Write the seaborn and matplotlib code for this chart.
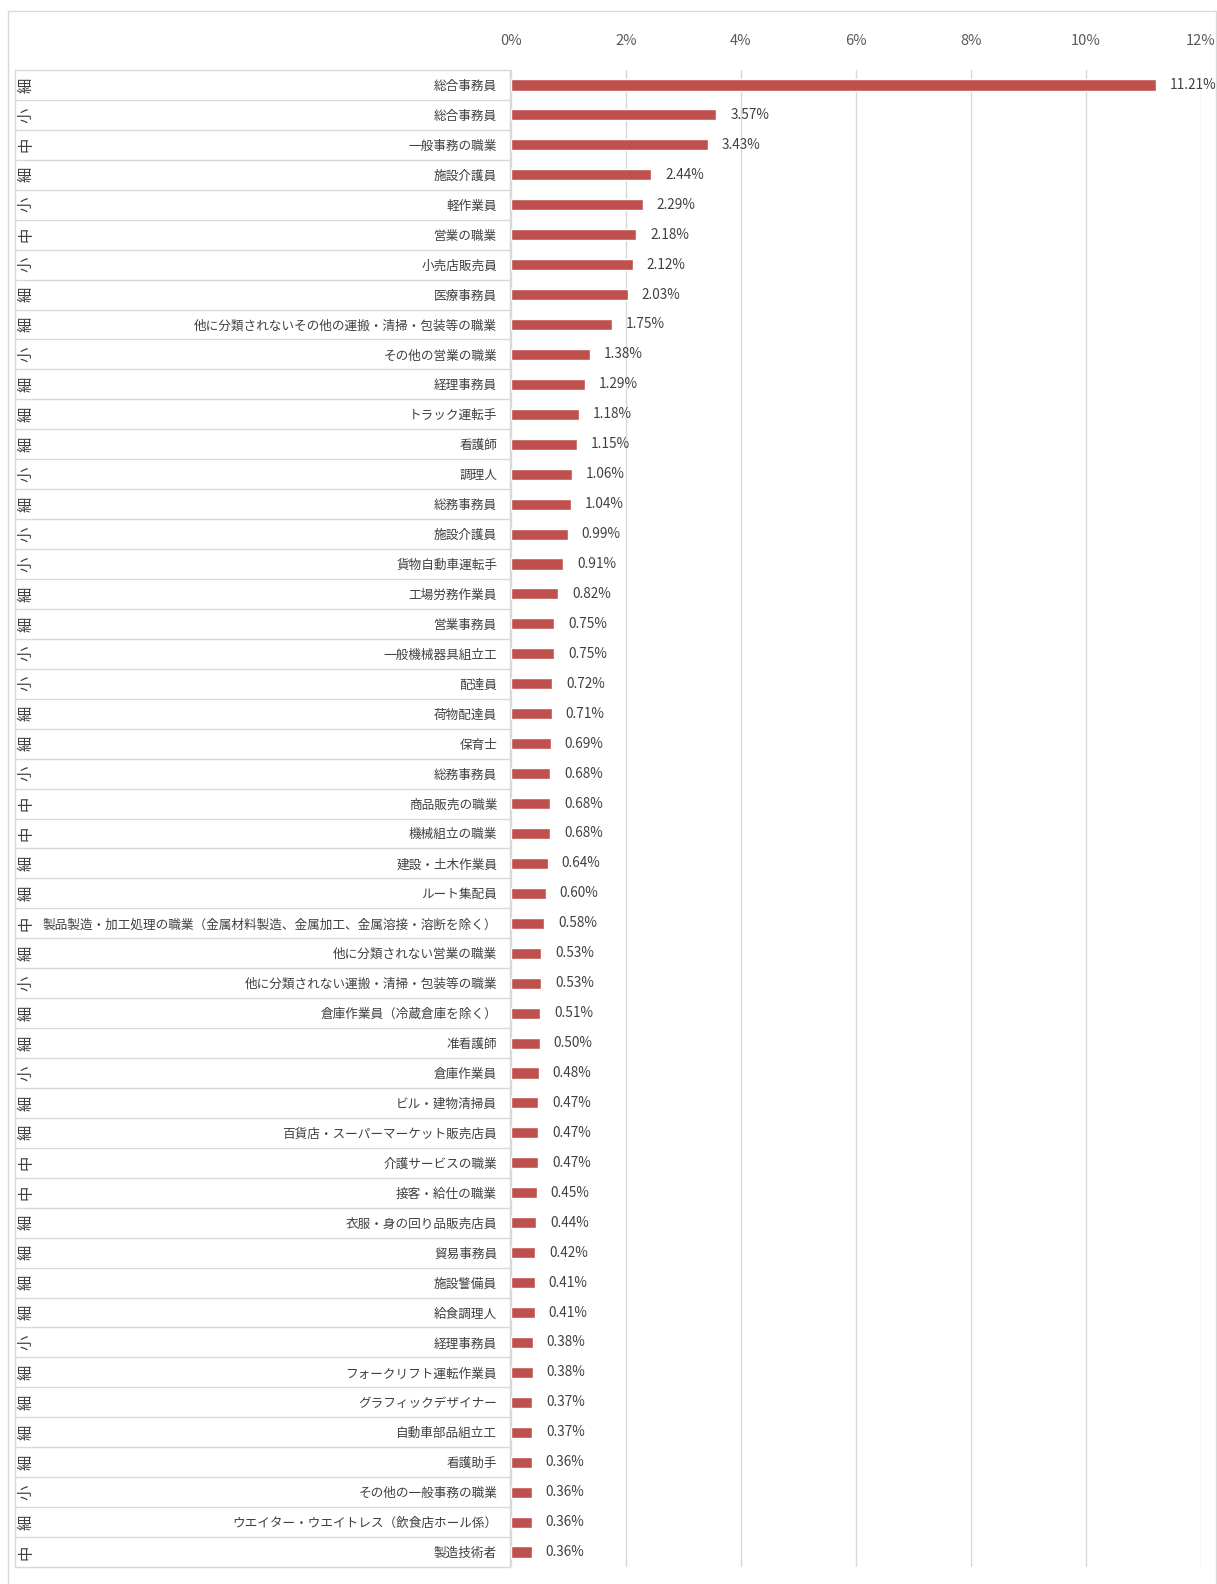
import matplotlib
matplotlib.use("Agg")
import matplotlib.pyplot as plt
import matplotlib.transforms as mtransforms
from matplotlib.patches import Rectangle
from matplotlib.lines import Line2D
import seaborn as sns
import pandas as pd

# Occupation classification level (細 = 細分類, 小 = 小分類, 中 = 中分類)
levels = [
    "細", "小", "中", "細", "小", "中", "小", "細", "細", "小",
    "細", "細", "細", "小", "細", "小", "小", "細", "細", "小",
    "小", "細", "細", "小", "中", "中", "細", "細", "中", "細",
    "小", "細", "細", "小", "細", "細", "中", "中", "細", "細",
    "細", "細", "小", "細", "細", "細", "細", "小", "細", "中",
]

occupations = [
    "総合事務員", "総合事務員", "一般事務の職業", "施設介護員", "軽作業員",
    "営業の職業", "小売店販売員", "医療事務員",
    "他に分類されないその他の運搬・清掃・包装等の職業", "その他の営業の職業",
    "経理事務員", "トラック運転手", "看護師", "調理人", "総務事務員",
    "施設介護員", "貨物自動車運転手", "工場労務作業員", "営業事務員", "一般機械器具組立工",
    "配達員", "荷物配達員", "保育士", "総務事務員", "商品販売の職業",
    "機械組立の職業", "建設・土木作業員", "ルート集配員",
    "製品製造・加工処理の職業（金属材料製造、金属加工、金属溶接・溶断を除く）",
    "他に分類されない営業の職業",
    "他に分類されない運搬・清掃・包装等の職業", "倉庫作業員（冷蔵倉庫を除く）", "准看護師",
    "倉庫作業員", "ビル・建物清掃員",
    "百貨店・スーパーマーケット販売店員", "介護サービスの職業", "接客・給仕の職業",
    "衣服・身の回り品販売店員", "貿易事務員",
    "施設警備員", "給食調理人", "経理事務員", "フォークリフト運転作業員", "グラフィックデザイナー",
    "自動車部品組立工", "看護助手", "その他の一般事務の職業",
    "ウエイター・ウエイトレス（飲食店ホール係）", "製造技術者",
]

shares = [
    11.21, 3.57, 3.43, 2.44, 2.29, 2.18, 2.12, 2.03, 1.75, 1.38,
    1.29, 1.18, 1.15, 1.06, 1.04, 0.99, 0.91, 0.82, 0.75, 0.75,
    0.72, 0.71, 0.69, 0.68, 0.68, 0.68, 0.64, 0.60, 0.58, 0.53,
    0.53, 0.51, 0.50, 0.48, 0.47, 0.47, 0.47, 0.45, 0.44, 0.42,
    0.41, 0.41, 0.38, 0.38, 0.37, 0.37, 0.36, 0.36, 0.36, 0.36,
]

x_ticks = [0, 2, 4, 6, 8, 10, 12]
x_tick_labels = ["0%", "2%", "4%", "6%", "8%", "10%", "12%"]

sns.set_theme(style="white")
plt.rcParams["font.family"] = ["Noto Sans CJK JP", "DejaVu Sans"]

W, H = 1217, 1584
fig = plt.figure(figsize=(W / 100, H / 100), dpi=100)
fig.patch.set_facecolor("white")

ax_left, ax_right = 511, 1201
ax_top, ax_bottom = 70, 1567
ax = fig.add_axes([ax_left / W, 1 - ax_bottom / H,
                   (ax_right - ax_left) / W, (ax_bottom - ax_top) / H])

df = pd.DataFrame({
    "rank": [str(i) for i in range(len(shares))],
    "occupation": occupations,
    "level": levels,
    "share": shares,
})

sns.barplot(data=df, x="share", y="rank", orient="h", color="#C0504D",
            saturation=1, width=0.37, ax=ax)

n = len(df)
ax.set_xlim(0, 12)
ax.set_ylim(n - 0.5, -0.5)

# percent axis on top
ax.xaxis.tick_top()
ax.set_xticks(x_ticks, labels=x_tick_labels)
ax.tick_params(axis="x", length=0, pad=16, labelsize=10.5, labelcolor="#595959")
ax.set_xlabel("")
ax.set_ylabel("")
ax.grid(axis="x", color="#D9D9D9", linewidth=1)
ax.set_axisbelow(True)

# occupation names
ax.set_yticks(range(n), labels=df["occupation"])
ax.tick_params(axis="y", length=0, pad=10, labelsize=9.1, labelcolor="#404040")

for s in ax.spines.values():
    s.set_visible(False)

# value labels
ax.bar_label(ax.containers[0], labels=[f"{v:.2f}%" for v in df["share"]],
             padding=10, fontsize=9.8, color="#404040")

# category table: row separators, borders and level column
trans = mtransforms.blended_transform_factory(fig.transFigure, ax.transData)
grid_c = "#D9D9D9"
table_left, table_right = 15, 510
for i in range(n + 1):
    ax.add_line(Line2D([table_left / W, table_right / W], [i - 0.5, i - 0.5],
                       transform=trans, color=grid_c, linewidth=1, clip_on=False))
for xp in (table_left, table_right):
    ax.add_line(Line2D([xp / W, xp / W], [-0.5, n - 0.5], transform=trans,
                       color=grid_c, linewidth=1, clip_on=False))
for i, lv in enumerate(df["level"]):
    ax.text(26 / W, i, lv, transform=trans, rotation=90, ha="center", va="center",
            fontsize=11, color="#404040", clip_on=False)

# chart frame
fig.patches.append(Rectangle((7.5 / W, -0.01), (1216 - 7.5) / W, 1.01 - 11 / H,
                             transform=fig.transFigure, fill=False,
                             edgecolor="#D9D9D9", linewidth=1))

fig.savefig("out.png", dpi=100)
